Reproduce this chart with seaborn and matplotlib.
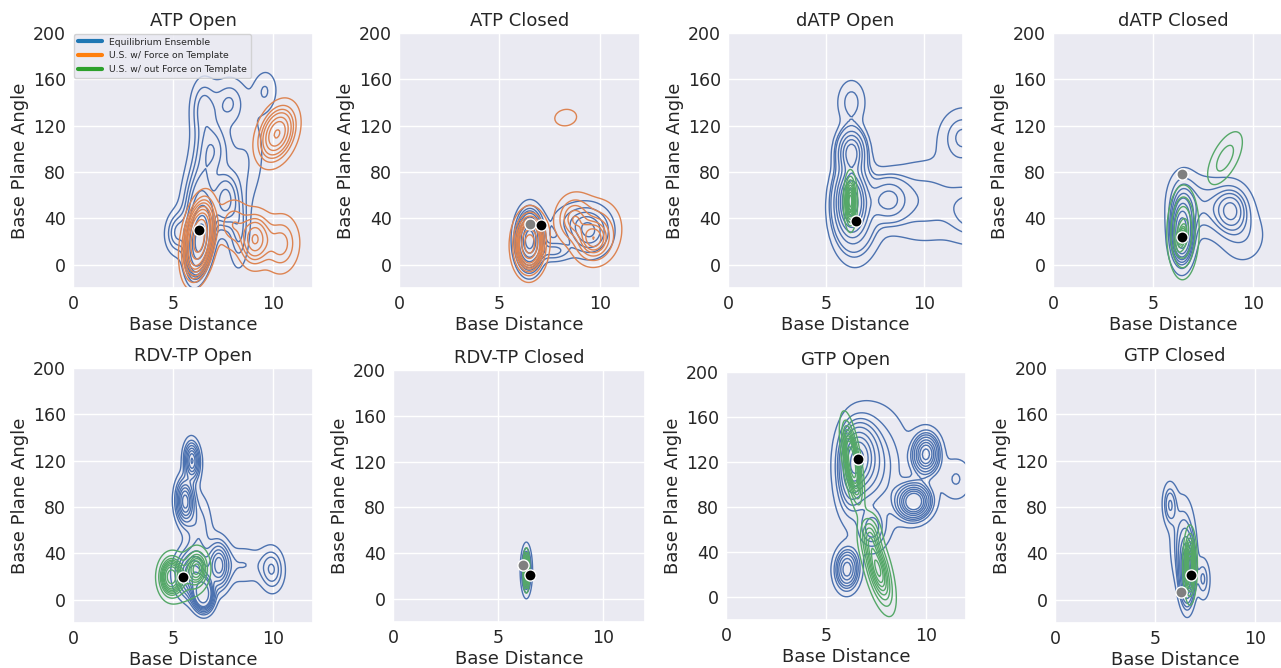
import numpy as np
import pandas as pd
import matplotlib
matplotlib.use("Agg")
import matplotlib.pyplot as plt
from matplotlib.lines import Line2D
import seaborn as sns

# ---------------- data ----------------
titles = ["ATP Open", "ATP Closed", "dATP Open", "dATP Closed",
          "RDV-TP Open", "RDV-TP Closed", "GTP Open", "GTP Closed"]
series_names = ["Equilibrium Ensemble", "U.S. w/ Force on Template",
                "U.S. w/ out Force on Template"]

# density clusters per panel: (centre x, centre y, sd x, sd y, corr, weight)
atp_open_eq = [(6.35, 22, 0.28, 14, 0.3, 0.30), (6.3, 50, 0.5, 26, 0.2, 0.18),
               (7.6, 55, 0.35, 13, 0.0, 0.07), (7.0, 100, 0.55, 15, 0.0, 0.07),
               (6.5, 135, 0.4, 16, 0.0, 0.045), (7.8, 140, 0.55, 13, 0.0, 0.045),
               (9.6, 150, 0.4, 11, 0.0, 0.02), (8.5, 85, 0.7, 28, 0.3, 0.08),
               (5.2, 28, 0.35, 10, 0.0, 0.03), (8.3, 30, 0.3, 20, 0.0, 0.04)]
atp_open_force = [(6.3, 22, 0.35, 16, 0.3, 0.45), (10.2, 113, 0.5, 13, 0.3, 0.20),
                  (9.1, 22, 0.4, 12, 0.0, 0.12), (10.4, 18, 0.5, 14, 0.0, 0.08),
                  (8.0, 35, 0.45, 12, 0.0, 0.05)]
atp_closed_eq = [(6.5, 22, 0.3, 13, 0.0, 0.55), (9.5, 28, 0.6, 12, 0.0, 0.20),
                 (8.8, 38, 0.8, 10, 0.0, 0.08), (7.7, 12, 0.5, 5, 0.0, 0.05)]
atp_closed_force = [(6.5, 18, 0.3, 12, 0.0, 0.50), (8.7, 40, 0.4, 10, 0.0, 0.12),
                    (9.7, 22, 0.45, 10, 0.0, 0.20), (9.8, 35, 0.8, 15, 0.0, 0.10),
                    (8.3, 127, 0.3, 4, 0.0, 0.015)]
datp_open_eq = [(6.3, 55, 0.3, 15, 0.0, 0.30), (6.3, 97, 0.25, 10, 0.0, 0.12),
                (6.3, 140, 0.35, 12, 0.0, 0.02), (8.2, 56, 0.5, 10, 0.0, 0.08),
                (6.5, 45, 0.6, 22, 0.0, 0.15), (10.0, 55, 1.5, 22, 0.0, 0.12),
                (12.0, 110, 0.7, 15, 0.0, 0.05), (12.5, 45, 0.7, 15, 0.0, 0.05)]
datp_open_free = [(6.25, 55, 0.15, 11, 0.0, 1.0)]
datp_closed_eq = [(6.45, 28, 0.25, 14, 0.0, 0.40), (8.9, 47, 0.5, 12, 0.0, 0.20),
                  (7.5, 50, 0.8, 15, 0.0, 0.15), (6.5, 55, 0.4, 15, 0.0, 0.10),
                  (9.5, 25, 0.7, 15, 0.0, 0.08)]
datp_closed_free = [(6.5, 28, 0.35, 18, 0.0, 0.35), (8.6, 92, 0.5, 13, 0.6, 0.10),
                    (6.45, 25, 0.06, 4, 0.0, 0.55)]
rdv_open_eq = [(5.95, 120, 0.2, 9, 0.0, 0.08), (5.6, 85, 0.25, 11, 0.0, 0.12),
               (6.5, 5, 0.25, 7, 0.0, 0.18), (7.3, 30, 0.3, 12, 0.0, 0.12),
               (6.0, 22, 0.5, 12, 0.0, 0.20), (9.95, 26, 0.35, 11, 0.0, 0.06),
               (8.5, 30, 0.8, 10, 0.0, 0.06), (6.3, 60, 0.4, 20, 0.0, 0.08)]
rdv_open_free = [(4.9, 20, 0.3, 9, 0.0, 0.5), (6.2, 27, 0.3, 9, 0.0, 0.3),
                 (5.5, 18, 0.5, 12, 0.0, 0.2)]
rdv_closed_eq = [(6.35, 25, 0.12, 10, 0.0, 1.0)]
rdv_closed_free = [(6.35, 25, 0.07, 8, 0.0, 1.0)]
gtp_open_eq = [(6.7, 125, 0.5, 18, 0.0, 0.18), (6.2, 110, 0.35, 22, 0.0, 0.10),
               (10.0, 127, 0.35, 10, 0.0, 0.12), (9.4, 85, 0.45, 8, 0.0, 0.15),
               (6.05, 25, 0.3, 10, 0.0, 0.08), (7.5, 115, 1.0, 32, 0.0, 0.25),
               (11.5, 105, 0.5, 12, 0.0, 0.03), (7.3, 60, 0.4, 10, 0.0, 0.04)]
gtp_open_free = [(6.3, 120, 0.25, 18, -0.6, 0.45), (7.6, 25, 0.4, 18, -0.6, 0.45),
                 (7.2, 55, 0.3, 10, 0.0, 0.10)]
gtp_closed_eq = [(5.75, 82, 0.2, 10, 0.0, 0.07), (6.6, 25, 0.2, 15, 0.0, 0.50),
                 (7.4, 18, 0.2, 10, 0.0, 0.05), (6.4, 50, 0.35, 22, 0.0, 0.22)]
gtp_closed_free = [(6.75, 30, 0.15, 14, 0.0, 1.0)]

# reference structures: grey and black markers (x, y); None = not shown
grey_points = [None, (6.5, 35), None, (6.45, 78), None, (6.2, 30), None, (6.3, 7)]
black_points = [(6.3, 30), (7.05, 34), (6.55, 38), (6.45, 24),
                (5.5, 20), (6.5, 21), (6.6, 123), (6.8, 21)]

panel_series = [
    [(0, atp_open_eq), (1, atp_open_force)],
    [(0, atp_closed_eq), (1, atp_closed_force)],
    [(0, datp_open_eq), (2, datp_open_free)],
    [(0, datp_closed_eq), (2, datp_closed_free)],
    [(0, rdv_open_eq), (2, rdv_open_free)],
    [(0, rdv_closed_eq), (2, rdv_closed_free)],
    [(0, gtp_open_eq), (2, gtp_open_free)],
    [(0, gtp_closed_eq), (2, gtp_closed_free)],
]

# ---------------- styling ----------------
sns.set_theme(style="darkgrid", context="notebook", color_codes=True)
line_colors = ["#4c72b0", "#dd8452", "#55a868"]
legend_colors = ["tab:blue", "tab:orange", "tab:green"]

W, H = 1281, 668
fig = plt.figure(figsize=(W / 100, H / 100), dpi=100)
# axes boxes in pixels: left, top, right, bottom
boxes = [(73, 33, 313, 288), (399, 33, 640, 288), (728, 33, 963, 288), (1053, 33, 1293, 288),
         (73, 368, 313, 623), (393, 370, 645, 622), (726, 372, 966, 620), (1055, 368, 1295, 623)]


def weighted_cloud(comps, n=80):
    mx = np.array([c[0] for c in comps]); my = np.array([c[1] for c in comps])
    sx = np.array([c[2] for c in comps]); sy = np.array([c[3] for c in comps])
    x0, x1 = (mx - 4 * sx).min(), (mx + 4 * sx).max()
    y0, y1 = (my - 4 * sy).min(), (my + 4 * sy).max()
    xs = np.linspace(x0, x1, n); ys = np.linspace(y0, y1, n)
    X, Y = np.meshgrid(xs, ys)
    D = np.zeros_like(X)
    for (cx, cy, ssx, ssy, r, w) in comps:
        u = (X - cx) / ssx; v = (Y - cy) / ssy
        q = (u * u - 2 * r * u * v + v * v) / (1 - r * r)
        D += w * np.exp(-0.5 * q) / (2 * np.pi * ssx * ssy * np.sqrt(1 - r * r))
    m = D > D.max() * 1e-4
    x, y, wt = X[m], Y[m], D[m]
    wn = wt / wt.sum()
    sdx = np.sqrt(np.sum(wn * (x - np.sum(wn * x)) ** 2))
    sdy = np.sqrt(np.sum(wn * (y - np.sum(wn * y)) ** 2))
    f = 1.3 * max((xs[1] - xs[0]) / sdx, (ys[1] - ys[0]) / sdy)
    return pd.DataFrame({"x": x, "y": y, "w": wt}), f


for i, ax_box in enumerate(boxes):
    l, t, r, b = ax_box
    ax = fig.add_axes([l / W, 1 - b / H, (r - l) / W, (b - t) / H])
    for (si, comps) in panel_series[i]:
        df, f = weighted_cloud(comps)
        sns.kdeplot(data=df, x="x", y="y", weights="w", bw_method=f,
                    levels=10, thresh=0.05, gridsize=120, color=line_colors[si],
                    linewidths=1, ax=ax)
    if grey_points[i] is not None:
        sns.scatterplot(x=[grey_points[i][0]], y=[grey_points[i][1]], color="#808080",
                        s=65, edgecolor="white", linewidth=1, zorder=5, ax=ax)
    sns.scatterplot(x=[black_points[i][0]], y=[black_points[i][1]], color="black",
                    s=65, edgecolor="white", linewidth=1, zorder=6, ax=ax)
    ax.set_xlim(0, 12)
    ax.set_ylim(-20, 200)
    ax.set_xticks([0, 5, 10])
    ax.set_yticks([0, 40, 80, 120, 160, 200])
    ax.set_title(titles[i], fontsize=13, pad=5)
    ax.set_xlabel("Base Distance", fontsize=13, labelpad=2)
    ax.set_ylabel("Base Plane Angle", fontsize=13, labelpad=3)
    ax.tick_params(labelsize=12.5, length=0, pad=5)
    if i == 0:
        handles = [Line2D([0], [0], color=c, lw=3) for c in legend_colors]
        ax.legend(handles, series_names, loc="upper left", fontsize=6.7,
                  borderaxespad=0.1, handlelength=2.6)

fig.savefig("out.png", dpi=100)
